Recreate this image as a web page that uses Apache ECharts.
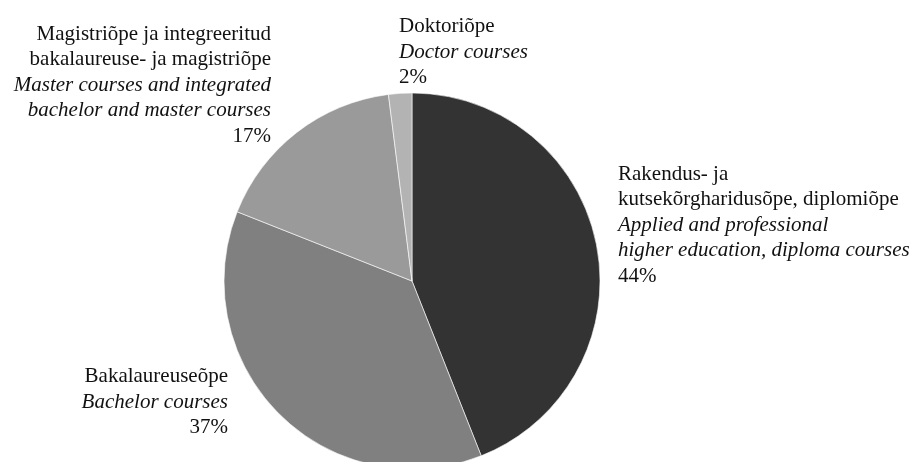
<!DOCTYPE html>
<html>
<head>
<meta charset="utf-8">
<script src="https://cdn.jsdelivr.net/npm/echarts@6/dist/echarts.min.js"></script>
<style>
html,body{margin:0;padding:0;background:#fff;}
#chart{width:915px;height:462px;}
</style>
</head>
<body>
<div id="chart"></div>
<script>
// Data
var categories = [
  'Rakendus- ja\nkutsekõrgharidusõpe, diplomiõpe',
  'Bakalaureuseõpe',
  'Magistriõpe ja integreeritud\nbakalaureuse- ja magistriõpe',
  'Doktoriõpe'
];
var englishNames = [
  'Applied and professional\nhigher education, diploma courses',
  'Bachelor courses',
  'Master courses and integrated\nbachelor and master courses',
  'Doctor courses'
];
var values = [44, 37, 17, 2];

// Styling / layout (not data)
var colors = ['#333333', '#808080', '#9a9a9a', '#b3b3b3'];
var labelPos = [
  {x: 618, y: 225, align: 'left'},
  {x: 228, y: 402, align: 'right'},
  {x: 271, y: 85, align: 'right'},
  {x: 399, y: 52, align: 'left'}
];

function wrap(tag, text) {
  return text.split('\n').map(function (l) { return '{' + tag + '|' + l + '}'; }).join('\n');
}

var seriesData = categories.map(function (c, i) {
  return {
    name: c,
    value: values[i],
    itemStyle: {color: colors[i]},
    label: {align: labelPos[i].align}
  };
});

var chart = echarts.init(document.getElementById('chart'), null, {renderer: 'canvas'});
var fontFam = '"Liberation Serif", "Times New Roman", serif';
var LH = 25.5;
var FS = 21;
chart.setOption({
  backgroundColor: '#ffffff',
  animation: false,
  series: [{
    type: 'pie',
    center: [412, 281],
    radius: 188,
    startAngle: 90,
    clockwise: true,
    avoidLabelOverlap: false,
    data: seriesData,
    itemStyle: {borderColor: '#ffffff', borderWidth: 0.6},
    label: {
      show: true,
      position: 'outside',
      formatter: function (p) {
        var i = p.dataIndex;
        return wrap('n', categories[i]) + '\n' + wrap('e', englishNames[i]) + '\n' + wrap('p', values[i] + '%');
      },
      fontFamily: fontFam,
      fontSize: FS,
      color: '#111',
      lineHeight: LH,
      rich: {
        n: {fontFamily: fontFam, fontSize: FS, color: '#111', lineHeight: LH},
        e: {fontFamily: fontFam, fontSize: FS, fontStyle: 'italic', color: '#111', lineHeight: LH},
        p: {fontFamily: fontFam, fontSize: FS, color: '#111', lineHeight: LH}
      }
    },
    labelLine: {show: false},
    labelLayout: function (params) {
      var lp = labelPos[params.dataIndex];
      return {x: lp.x, y: lp.y, align: lp.align, verticalAlign: 'middle', hideOverlap: false, moveOverlap: null};
    },
    emphasis: {disabled: true}
  }]
});
</script>
</body>
</html>
